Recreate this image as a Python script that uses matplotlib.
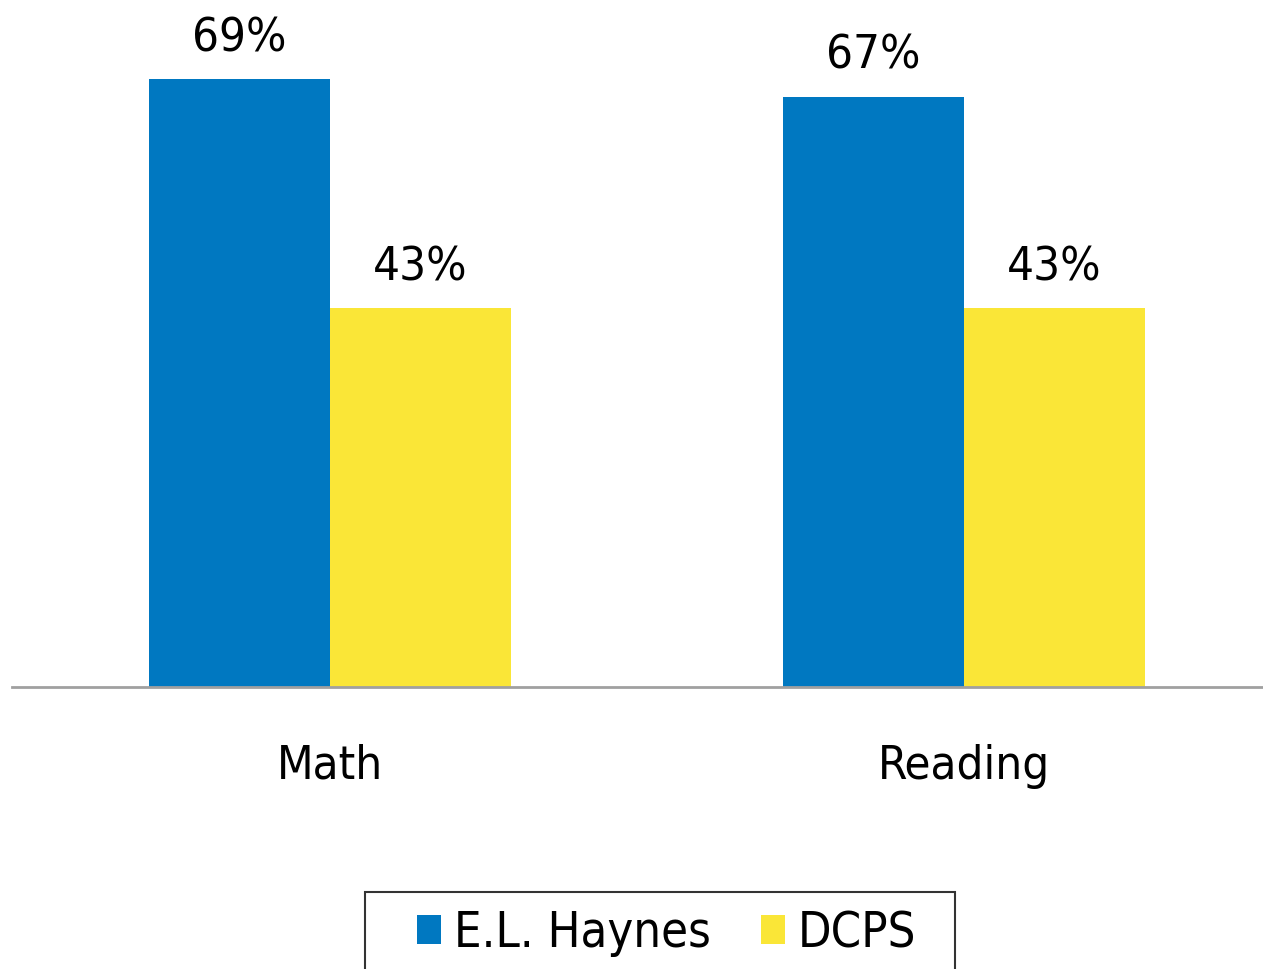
import matplotlib
matplotlib.use("Agg")
import matplotlib.pyplot as plt
import numpy as np
from matplotlib.patches import Patch, Rectangle

categories = ["Math", "Reading"]
series_names = ["E.L. Haynes", "DCPS"]
haynes = [69, 67]
dcps = [43, 43]
colors = ["#0078C1", "#FAE637"]

plt.rcParams["font.family"] = ["DejaVu Sans"]
plt.rcParams["font.stretch"] = "condensed"

W, H = 1263, 969
fig = plt.figure(figsize=(W / 100, H / 100), dpi=100)
ax = fig.add_axes([12 / W, 1 - 687 / H, 1 - 12 / W, 687 / H])

x = np.arange(len(categories))
bw = 181 / 634
b1 = ax.bar(x - bw / 2, haynes, width=bw, color=colors[0], linewidth=0)
b2 = ax.bar(x + bw / 2, dcps, width=bw, color=colors[1], linewidth=0)

for bars, vals in ((b1, haynes), (b2, dcps)):
    for rect, v in zip(bars, vals):
        ax.text(rect.get_x() + rect.get_width() / 2, v + 2.05, f"{v}%",
                ha="center", va="bottom", fontsize=34, color="black",
                fontstretch="condensed")

ax.set_xlim(-318 / 634, 1 + 299 / 634)
ax.set_ylim(0, 687 / 8.81)
for s in ["top", "right", "left"]:
    ax.spines[s].set_visible(False)
ax.spines["bottom"].set_color("#A0A0A0")
ax.spines["bottom"].set_linewidth(2)
ax.set_yticks([])
ax.set_xticks(x)
ax.set_xticklabels(categories, fontsize=34, fontstretch="condensed")
ax.tick_params(axis="x", length=0, pad=41)

handles = [Patch(facecolor=c, edgecolor="none") for c in colors]
leg = fig.legend(handles, series_names, loc="center",
                 bbox_to_anchor=(667 / W, 1 - 933 / H), ncol=2,
                 prop={"size": 35, "stretch": "condensed"},
                 frameon=False,
                 handlelength=0.49, handleheight=0.53, handletextpad=0.27,
                 columnspacing=1.03, borderpad=0, borderaxespad=0)

fig.patches.append(Rectangle((365 / W, -0.05), (955 - 365) / W, 0.05 + 1 - 892 / H,
                             transform=fig.transFigure, facecolor="none",
                             edgecolor="#333333", linewidth=1.5, zorder=0))

fig.savefig("out.png", dpi=100)
